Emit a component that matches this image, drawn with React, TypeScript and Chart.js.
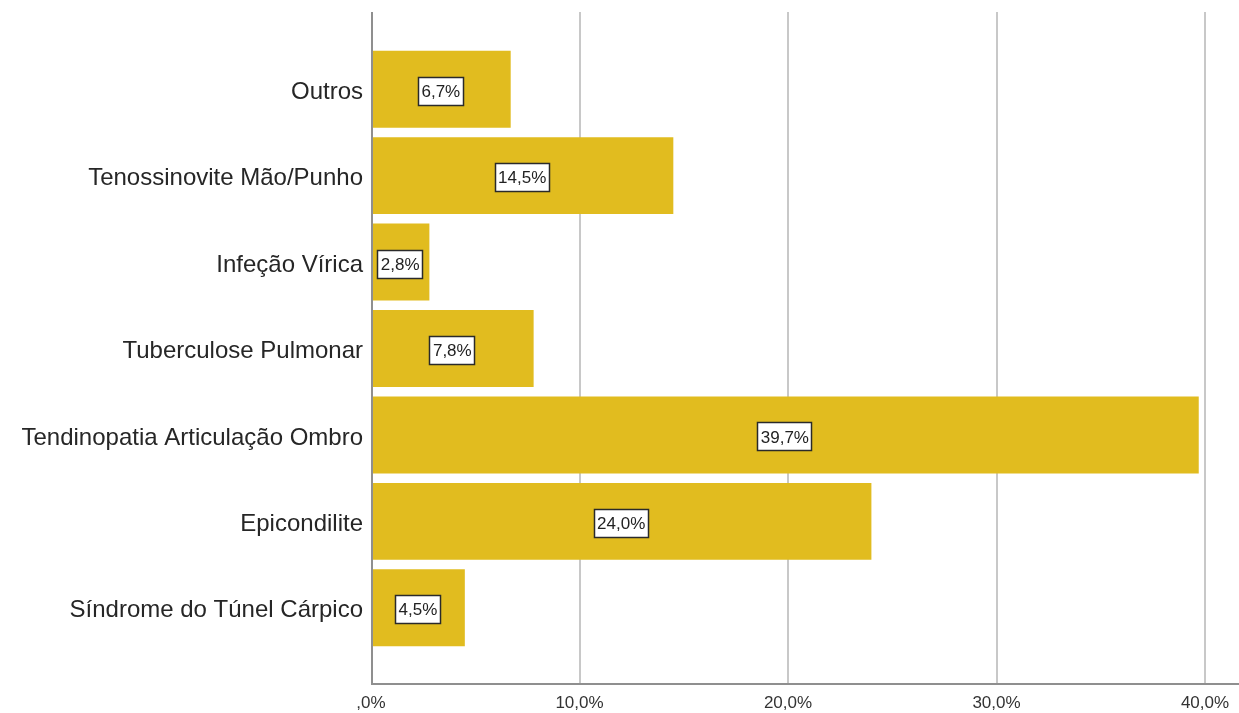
import React, { useEffect, useRef } from 'react';
import { Chart, registerables } from 'chart.js';

Chart.register(...registerables);

const categories = [
  'Outros',
  'Tenossinovite Mão/Punho',
  'Infeção Vírica',
  'Tuberculose Pulmonar',
  'Tendinopatia Articulação Ombro',
  'Epicondilite',
  'Síndrome do Túnel Cárpico',
];
const percentages = [6.7, 14.5, 2.8, 7.8, 39.7, 24.0, 4.5];
const xTickValues = [0, 10, 20, 30, 40];
const xTickLabels = [',0%', '10,0%', '20,0%', '30,0%', '40,0%'];

const FONT = '"Liberation Sans", Arial, Helvetica, sans-serif';
const BAR_COLOR = '#E1BC1F';

const fmt = (v: number) => v.toFixed(1).replace('.', ',') + '%';

const framePlugin = {
  id: 'spssFrame',
  beforeDatasetsDraw(chart: any) {
    const { ctx, chartArea, scales } = chart;
    const x = scales.x;
    const top = chartArea.top - 34;
    const bottom = chartArea.bottom + 33;
    ctx.save();
    ctx.lineWidth = 2;
    ctx.strokeStyle = '#c8c8c8';
    xTickValues.forEach((v) => {
      if (v === 0) return;
      const px = Math.round(x.getPixelForValue(v));
      ctx.beginPath();
      ctx.moveTo(px, top);
      ctx.lineTo(px, bottom);
      ctx.stroke();
    });
    ctx.restore();
  },
  afterDatasetsDraw(chart: any) {
    const { ctx, chartArea, scales, width } = chart;
    const x = scales.x;
    const top = chartArea.top - 34;
    const bottom = chartArea.bottom + 33;
    const x0 = Math.round(x.getPixelForValue(0)) + 1;
    ctx.save();
    ctx.lineWidth = 2;
    ctx.strokeStyle = '#8f8f8f';
    ctx.beginPath();
    ctx.moveTo(x0, top);
    ctx.lineTo(x0, bottom);
    ctx.moveTo(x0 - 1, bottom);
    ctx.lineTo(width, bottom);
    ctx.stroke();

    // value labels
    const meta = chart.getDatasetMeta(0);
    ctx.font = `17px ${FONT}`;
    ctx.textAlign = 'center';
    ctx.textBaseline = 'middle';
    meta.data.forEach((bar: any, i: number) => {
      const text = fmt(percentages[i]);
      const cx = (bar.x + bar.base) / 2;
      const cy = bar.y + 2;
      const tw = ctx.measureText(text).width;
      const w = Math.round(tw + 7);
      const h = 29;
      const bx = Math.round(cx - w / 2);
      const by = Math.round(cy - h / 2);
      ctx.fillStyle = '#ffffff';
      ctx.fillRect(bx, by, w, h);
      ctx.lineWidth = 1.5;
      ctx.strokeStyle = '#2a2a2a';
      ctx.strokeRect(bx + 0.5, by + 0.5, w - 1, h - 1);
      ctx.fillStyle = '#222222';
      ctx.fillText(text, cx, cy + 1);
    });
    ctx.restore();
  },
};

export default function App() {
  const canvasRef = useRef<HTMLCanvasElement | null>(null);

  useEffect(() => {
    if (!canvasRef.current) return;
    const chart = new Chart(canvasRef.current, {
      type: 'bar',
      data: {
        labels: categories,
        datasets: [
          {
            data: percentages,
            backgroundColor: BAR_COLOR,
            borderWidth: 0,
            categoryPercentage: 1,
            barPercentage: 0.89,
          },
        ],
      },
      options: {
        indexAxis: 'y',
        responsive: false,
        animation: false,
        events: [],
        layout: { padding: { top: 46, right: 34, bottom: 0, left: 0 } },
        plugins: {
          legend: { display: false },
          tooltip: { enabled: false },
        },
        scales: {
          x: {
            type: 'linear',
            min: 0,
            max: 40,
            grid: { display: false, drawTicks: false },
            border: { display: false },
            afterBuildTicks: (scale: any) => {
              scale.ticks = xTickValues.map((v) => ({ value: v }));
            },
            afterFit: (scale: any) => {
              scale.height = 62;
              scale.paddingLeft = 0;
              scale.paddingRight = 0;
            },
            ticks: {
              padding: 42,
              color: '#333333',
              font: { family: FONT, size: 17 },
              callback: (v: any) => xTickLabels[xTickValues.indexOf(Number(v))],
              maxRotation: 0,
            },
          },
          y: {
            type: 'category',
            grid: { display: false, drawTicks: false },
            border: { display: false },
            afterFit: (scale: any) => {
              scale.width = 371;
            },
            ticks: {
              padding: 8,
              labelOffset: 3,
              color: '#262626',
              font: { family: FONT, size: 24 },
            },
          },
        },
      },
      plugins: [framePlugin],
    });
    return () => chart.destroy();
  }, []);

  return (
    <div style={{ position: 'fixed', left: 0, top: 0, width: 1239, height: 713, background: '#fff' }}>
      <canvas ref={canvasRef} width={1239} height={713} style={{ display: 'block' }} />
    </div>
  );
}
